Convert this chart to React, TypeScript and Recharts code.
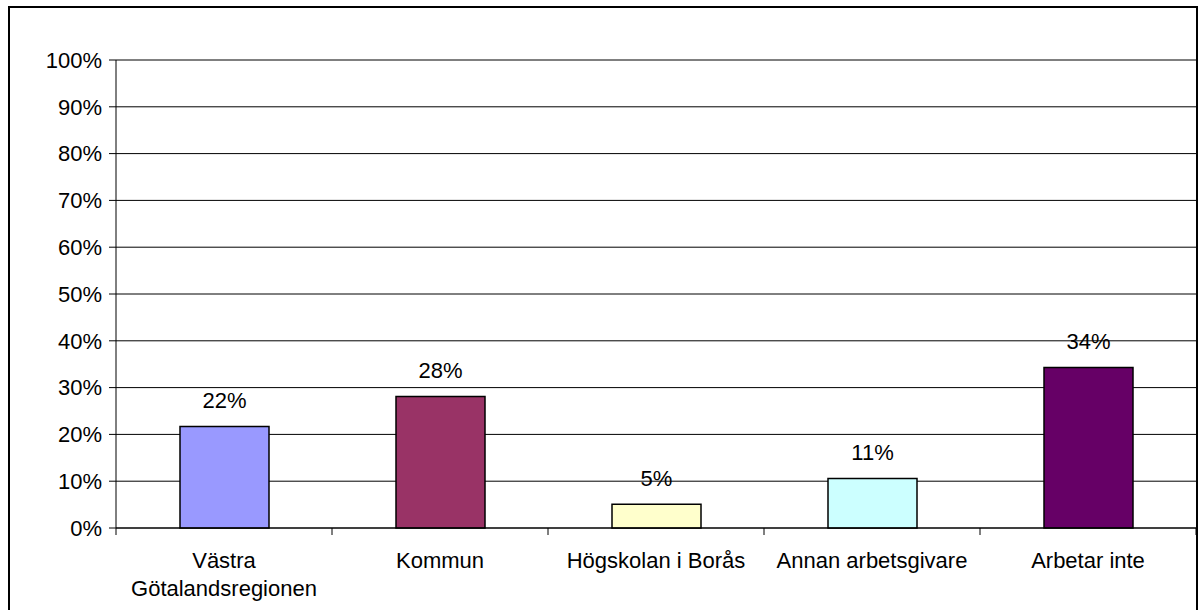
import { BarChart, Bar, XAxis, YAxis, CartesianGrid, Cell, LabelList } from "recharts";

const categories = ["Västra Götalandsregionen", "Kommun", "Högskolan i Borås", "Annan arbetsgivare", "Arbetar inte"];
const categoryLines = [["Västra", "Götalandsregionen"], ["Kommun"], ["Högskolan i Borås"], ["Annan arbetsgivare"], ["Arbetar inte"]];
const shares = [21.7, 28.1, 5.1, 10.6, 34.3];
const barColors = ["#9999FF", "#993366", "#FFFFCC", "#CCFFFF", "#660066"];
const yTicks = [0, 10, 20, 30, 40, 50, 60, 70, 80, 90, 100];

const data = categories.map((name, i) => ({ name, value: shares[i] }));

const font = "'Liberation Sans', Arial, sans-serif";
const fontSize = 22;

const CategoryTick = (props: any) => {
  const { x, y, payload, index } = props;
  const half = payload?.offset || 108;
  const last = index === categories.length - 1;
  const lines = categoryLines[index] ?? [String(payload.value)];
  return (
    <g>
      <line x1={x - half} x2={x - half} y1={y} y2={y + 7} stroke="#000" />
      {last && <line x1={x + half} x2={x + half} y1={y} y2={y + 7} stroke="#000" />}
      <text x={x} y={y + 40} textAnchor="middle" fill="#000" style={{ fontSize, fontFamily: font }}>
        {lines.map((l, i) => (
          <tspan key={l} x={x} dy={i === 0 ? 0 : 28}>
            {l}
          </tspan>
        ))}
      </text>
    </g>
  );
};

export default function App() {
  return (
    <div
      style={{
        position: "fixed",
        left: 8,
        top: 6,
        width: 1186,
        height: 620,
        border: "2px solid #000",
        overflow: "hidden",
        background: "#fff",
      }}
    >
      <BarChart width={1186} height={600} data={data} margin={{ top: 52, right: 0, bottom: 0, left: 0 }}>
        <CartesianGrid horizontal vertical={false} stroke="#000" strokeWidth={1} />
        <XAxis
          dataKey="name"
          height={80}
          interval={0}
          axisLine={{ stroke: "#000" }}
          tickLine={false}
          tickSize={0}
          tickMargin={0}
          tick={<CategoryTick />}
        />
        <YAxis
          width={106}
          domain={[0, 100]}
          ticks={yTicks}
          interval={0}
          tickFormatter={(v) => `${v}%`}
          axisLine={{ stroke: "#000" }}
          tickLine={{ stroke: "#000" }}
          tickSize={7}
          tickMargin={7}
          tick={{ fill: "#000", fontSize, fontFamily: font }}
        />
        <Bar dataKey="value" barSize={89} stroke="#000" strokeWidth={1.5} isAnimationActive={false}>
          {data.map((d, i) => (
            <Cell key={d.name} fill={barColors[i]} />
          ))}
          <LabelList
            dataKey="value"
            position="top"
            offset={18}
            formatter={(v: any) => `${Math.round(Number(v))}%`}
            fill="#000"
            style={{ fontSize, fontFamily: font }}
          />
        </Bar>
      </BarChart>
    </div>
  );
}
